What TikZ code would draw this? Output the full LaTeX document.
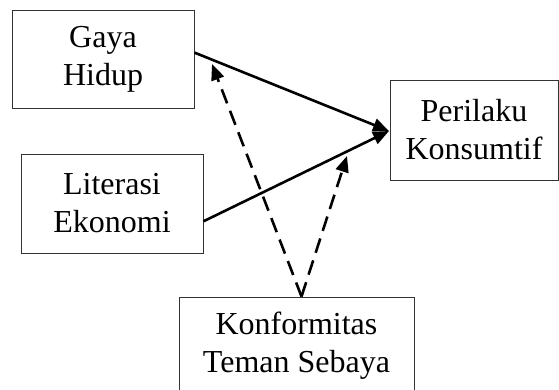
\documentclass[tikz,border=0pt]{standalone}
\usepackage{fontspec}
\setmainfont{Liberation Serif}
\usetikzlibrary{arrows.meta}
\begin{document}
\begin{tikzpicture}[x=1pt,y=-1pt,
  box/.style={draw=black!80,line width=1pt,rectangle,inner sep=0pt,align=center,
    font=\fontsize{32}{38}\selectfont},
  path/.style={line width=2.6pt,-{Triangle[length=16pt,width=13pt]}},
  dpath/.style={path,dash pattern=on 15pt off 8pt}]
\useasboundingbox (0,0) rectangle (559,389);
\node[box,minimum width=182pt,minimum height=98pt] (gaya) at (103,59) {Gaya\\Hidup};
\node[box,minimum width=182pt,minimum height=99pt] (lit) at (112,203.5) {Literasi\\Ekonomi};
\node[box,minimum width=168pt,minimum height=100pt] (per) at (474,130) {Perilaku\\Konsumtif};
\node[box,minimum width=235pt,minimum height=98pt] (kon) at (296.5,346) {Konformitas\\Teman Sebaya};
\coordinate (tip) at (389,131);
\coordinate (tipg) at (212,64);
\coordinate (tipp) at (347,156);
\coordinate (kstart) at ([xshift=5pt]kon.north);
\draw[path] (gaya.4) -- (tip);
\draw[path] (lit.-11.5) -- (tip);
\draw[dpath] (kstart) -- (tipg);
\draw[dpath] (kstart) -- (tipp);
\end{tikzpicture}
\end{document}
